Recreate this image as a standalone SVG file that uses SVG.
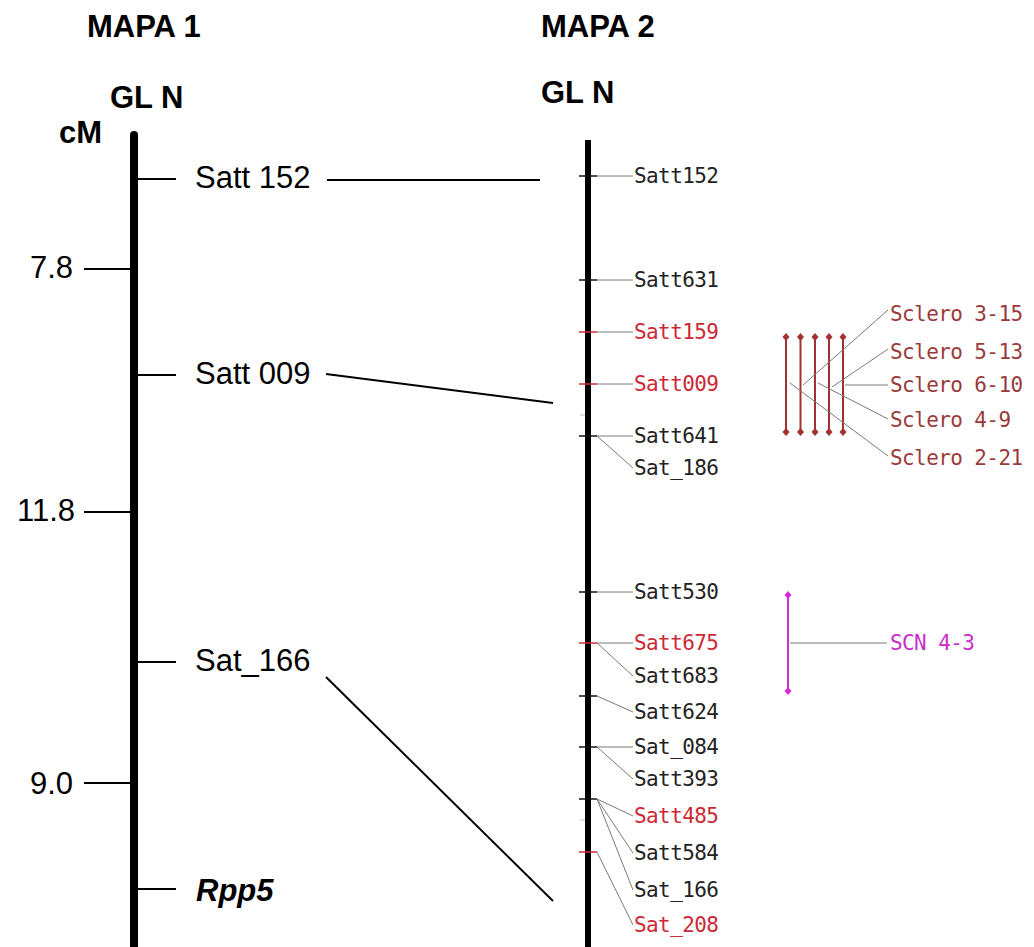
<svg xmlns="http://www.w3.org/2000/svg" xmlns:xlink="http://www.w3.org/1999/xlink" width="1034" height="947" viewBox="0 0 1034 947">
<style>
.big{font-family:"Liberation Sans",Arial,sans-serif;font-size:31px;fill:#000}
.bold{font-weight:bold}
.mono{font-family:"DejaVu Sans Mono","Liberation Mono",monospace;font-size:21px;letter-spacing:-0.6px}
.blk{fill:#222}
.red{fill:#cc2a36}
.scl{fill:#9a3b3b}
.mag{fill:#c82fc8}
.tick1{stroke:#000;stroke-width:2}
.conn{stroke:#000;stroke-width:2;fill:none}
.lead{stroke:#7a7a7a;stroke-width:1;fill:none}
.tk{stroke:#111;stroke-width:1.5}
.tkr{stroke:#cc2a36;stroke-width:1.5}
.minor{stroke:#bbb;stroke-width:1}
.sbar{stroke:#a33030;stroke-width:2}
.mbar{stroke:#d62ad6;stroke-width:2}
</style>
<defs>
<path id="dia" d="M0,-4 L3.5,0 L0,4 L-3.5,0 Z"/>
</defs>
<rect width="1034" height="947" fill="#fff"/>

<g id="titles">
<text class="big bold" x="87" y="37">MAPA 1</text>
<text class="big bold" x="110" y="108">GL N</text>
<text class="big bold" x="59" y="143">cM</text>
<text class="big bold" x="541" y="37">MAPA 2</text>
<text class="big bold" x="541" y="103">GL N</text>
</g>

<g id="chrom1">
<rect x="130" y="131" width="8" height="830" rx="4" fill="#000"/>
</g>

<g id="scale1">
<line class="tick1" x1="84" y1="269" x2="130" y2="269"/>
<text class="big" x="73" y="278" text-anchor="end">7.8</text>
<line class="tick1" x1="84" y1="512" x2="130" y2="512"/>
<text class="big" x="75" y="521" text-anchor="end">11.8</text>
<line class="tick1" x1="84" y1="783" x2="130" y2="783"/>
<text class="big" x="73" y="794" text-anchor="end">9.0</text>
</g>

<g id="m1-satt152">
<line class="tick1" x1="138" y1="179" x2="176" y2="179"/>
<text class="big" x="195" y="188">Satt 152</text>
</g>
<g id="m1-satt009">
<line class="tick1" x1="138" y1="375" x2="176" y2="375"/>
<text class="big" x="195" y="384">Satt 009</text>
</g>
<g id="m1-sat166">
<line class="tick1" x1="138" y1="662" x2="176" y2="662"/>
<text class="big" x="195" y="671">Sat_166</text>
</g>
<g id="m1-rpp5">
<line class="tick1" x1="138" y1="889" x2="176" y2="889"/>
<text class="big bold" x="196" y="901" font-style="italic" font-size="33">Rpp5</text>
</g>

<g id="connectors">
<line class="conn" x1="327" y1="180" x2="540" y2="180"/>
<line class="conn" x1="326" y1="374" x2="553" y2="403"/>
<line class="conn" x1="326" y1="677" x2="553" y2="901"/>
</g>

<g id="chrom2">
<rect x="585" y="140" width="6" height="807" fill="#000"/>
<line class="minor" x1="580" y1="415" x2="585" y2="415"/>
<line class="minor" x1="580" y1="820" x2="585" y2="820"/>
</g>

<g id="m2-satt152"><line class="tk" x1="579" y1="176" x2="597" y2="176"/><line class="lead" x1="597" y1="176" x2="633" y2="176"/><text class="mono blk" x="634" y="183">Satt152</text></g>
<g id="m2-satt631"><line class="tk" x1="579" y1="280" x2="597" y2="280"/><line class="lead" x1="597" y1="280" x2="633" y2="280"/><text class="mono blk" x="634" y="287">Satt631</text></g>
<g id="m2-satt159"><line class="tkr" x1="579" y1="332" x2="597" y2="332"/><line class="lead" x1="597" y1="332" x2="633" y2="332"/><text class="mono red" x="634" y="339">Satt159</text></g>
<g id="m2-satt009"><line class="tkr" x1="579" y1="384" x2="597" y2="384"/><line class="lead" x1="597" y1="384" x2="633" y2="384"/><text class="mono red" x="634" y="391">Satt009</text></g>
<g id="m2-satt641"><line class="tk" x1="579" y1="436" x2="597" y2="436"/><line class="lead" x1="597" y1="436" x2="633" y2="436"/><text class="mono blk" x="634" y="443">Satt641</text></g>
<g id="m2-sat186"><line class="lead" x1="597" y1="436" x2="633" y2="468"/><text class="mono blk" x="634" y="475">Sat_186</text></g>
<g id="m2-satt530"><line class="tk" x1="579" y1="592" x2="597" y2="592"/><line class="lead" x1="597" y1="592" x2="633" y2="592"/><text class="mono blk" x="634" y="599">Satt530</text></g>
<g id="m2-satt675"><line class="tkr" x1="579" y1="643" x2="597" y2="643"/><line class="lead" x1="597" y1="643" x2="633" y2="643"/><text class="mono red" x="634" y="650">Satt675</text></g>
<g id="m2-satt683"><line class="lead" x1="597" y1="643" x2="633" y2="676"/><text class="mono blk" x="634" y="683">Satt683</text></g>
<g id="m2-satt624"><line class="tk" x1="579" y1="696" x2="597" y2="696"/><line class="lead" x1="597" y1="696" x2="633" y2="712"/><text class="mono blk" x="634" y="719">Satt624</text></g>
<g id="m2-sat084"><line class="tk" x1="579" y1="747" x2="597" y2="747"/><line class="lead" x1="597" y1="747" x2="633" y2="747"/><text class="mono blk" x="634" y="754">Sat_084</text></g>
<g id="m2-satt393"><line class="lead" x1="597" y1="747" x2="633" y2="779"/><text class="mono blk" x="634" y="786">Satt393</text></g>
<g id="m2-satt485"><line class="tk" x1="579" y1="799" x2="597" y2="799"/><line class="lead" x1="597" y1="799" x2="633" y2="816"/><text class="mono red" x="634" y="823">Satt485</text></g>
<g id="m2-satt584"><line class="lead" x1="597" y1="799" x2="633" y2="853"/><text class="mono blk" x="634" y="860">Satt584</text></g>
<g id="m2-sat166"><line class="lead" x1="597" y1="799" x2="633" y2="890"/><text class="mono blk" x="634" y="897">Sat_166</text></g>
<g id="m2-sat208"><line class="tkr" x1="579" y1="852" x2="597" y2="852"/><line class="lead" x1="597" y1="852" x2="633" y2="925"/><text class="mono red" x="634" y="932">Sat_208</text></g>

<g id="sclero-qtl">
<g fill="#a33030">
<line class="sbar" x1="786" y1="337" x2="786" y2="432"/><use xlink:href="#dia" x="786" y="337"/><use xlink:href="#dia" x="786" y="432"/>
<line class="sbar" x1="800.5" y1="337" x2="800.5" y2="432"/><use xlink:href="#dia" x="800.5" y="337"/><use xlink:href="#dia" x="800.5" y="432"/>
<line class="sbar" x1="815" y1="337" x2="815" y2="432"/><use xlink:href="#dia" x="815" y="337"/><use xlink:href="#dia" x="815" y="432"/>
<line class="sbar" x1="829" y1="337" x2="829" y2="432"/><use xlink:href="#dia" x="829" y="337"/><use xlink:href="#dia" x="829" y="432"/>
<line class="sbar" x1="843" y1="337" x2="843" y2="432"/><use xlink:href="#dia" x="843" y="337"/><use xlink:href="#dia" x="843" y="432"/>
</g>
<line class="lead" x1="803" y1="385" x2="888" y2="310"/>
<line class="lead" x1="832" y1="387" x2="888" y2="349"/>
<line class="lead" x1="845" y1="385" x2="888" y2="385"/>
<line class="lead" x1="818" y1="383" x2="888" y2="419"/>
<line class="lead" x1="790" y1="383" x2="888" y2="456"/>
<text class="mono scl" x="890" y="321">Sclero 3-15</text>
<text class="mono scl" x="890" y="359">Sclero 5-13</text>
<text class="mono scl" x="890" y="392">Sclero 6-10</text>
<text class="mono scl" x="890" y="427">Sclero 4-9</text>
<text class="mono scl" x="890" y="465">Sclero 2-21</text>
</g>

<g id="scn-qtl">
<line class="mbar" x1="788" y1="595" x2="788" y2="691"/>
<use xlink:href="#dia" x="788" y="595" fill="#d62ad6"/>
<use xlink:href="#dia" x="788" y="691" fill="#d62ad6"/>
<line class="lead" x1="790" y1="643" x2="887" y2="643"/>
<text class="mono mag" x="890" y="650">SCN 4-3</text>
</g>
</svg>
